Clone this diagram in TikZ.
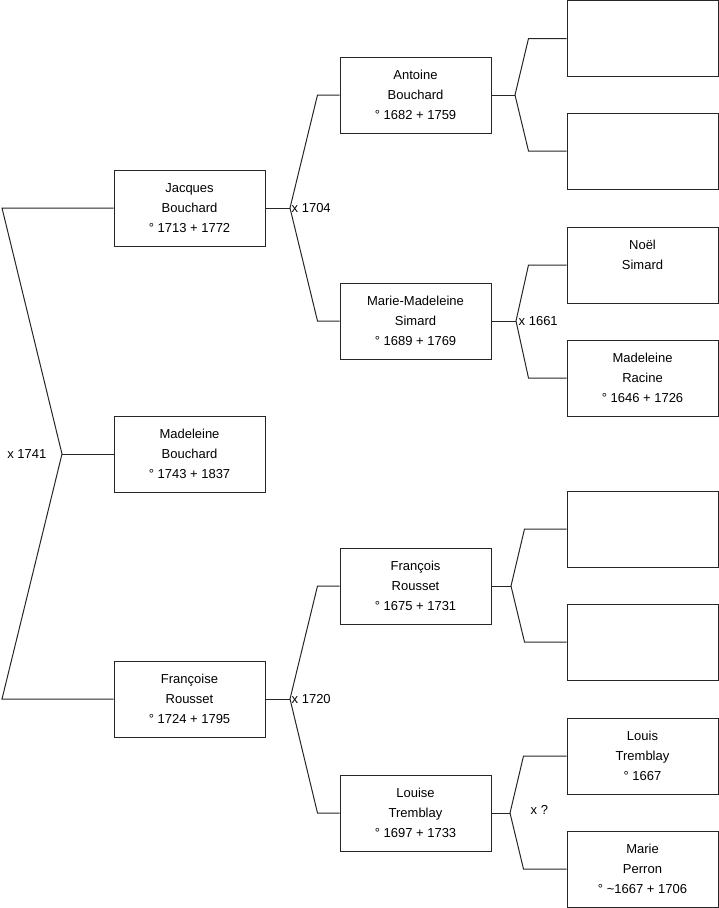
\documentclass[tikz,border=0pt]{standalone}
\usepackage{fontspec}
\setmainfont{Liberation Sans}
\usepackage{tikz}
\usetikzlibrary{calc}
\definecolor{lineGrey}{HTML}{262626}

\begin{document}
\begin{tikzpicture}[
  x=1pt,
  y=-1pt,
  font=\fontsize{13}{20}\selectfont,
  person/.style={
    rectangle,
    draw=lineGrey,
    fill=white,
    line width=1pt,
    align=center,
    minimum width=151pt,
    minimum height=76pt,
    inner sep=0pt
  },
  couple/.style={inner sep=1.5pt},
  link/.style={draw=lineGrey,line width=1pt}
]
\useasboundingbox (0,0) rectangle (719,908);

% Generation 1 and 2.
\node[person] (madeleine) at (189.5,454) {Madeleine\\Bouchard\\° 1743 + 1837};
\node[person] (jacques) at (189.5,208) {Jacques\\Bouchard\\° 1713 + 1772};
\node[person] (francoise) at (189.5,699) {Françoise\\Rousset\\° 1724 + 1795};

% Generation 3.
\node[person] (antoine) at (415.5,95) {Antoine\\Bouchard\\° 1682 + 1759};
\node[person] (mariemad) at (415.5,321) {Marie-Madeleine\\Simard\\° 1689 + 1769};
\node[person] (francois) at (415.5,586) {François\\Rousset\\° 1675 + 1731};
\node[person] (louise) at (415.5,813) {Louise\\Tremblay\\° 1697 + 1733};

% Generation 4.
\node[person] (antoineP) at (642.5,38.5) {};
\node[person] (antoineM) at (642.5,151) {};
\node[person] (noel) at (642.5,265) {Noël\\Simard\\\mbox{}};
\node[person] (racine) at (642.5,378) {Madeleine\\Racine\\° 1646 + 1726};
\node[person] (francoisP) at (642.5,529) {};
\node[person] (francoisM) at (642.5,642) {};
\node[person] (louis) at (642.5,756) {Louis\\Tremblay\\° 1667};
\node[person] (perron) at (642.5,869) {Marie\\Perron\\° \textasciitilde1667 + 1706};

% Fork points.
\coordinate (root) at (2,0);
\coordinate (x1741) at (62,454);
\coordinate (x1704) at (290,208);
\coordinate (x1720) at (290,699);
\coordinate (xant) at (515,95);
\coordinate (x1661) at (516,321);
\coordinate (xfra) at (511,586);
\coordinate (xlou) at (510,813);

% Parents of Madeleine.
\draw[link] (jacques.west) -- (jacques.west -| root) -- (x1741)
  -- (francoise.west -| root) -- (francoise.west);
\draw[link] (x1741) -- (madeleine.west);
\node[couple,anchor=east] (m1741) at ([xshift=-14]x1741) {x 1741};

% Parents of Jacques and Francoise.
\draw[link] (jacques.east) -- (x1704);
\draw[link] (antoine.west) -- ([xshift=-22]antoine.west) -- (x1704)
  -- ([xshift=-22]mariemad.west) -- (mariemad.west);
\node[couple,anchor=west] (m1704) at (x1704) {x 1704};
\draw[link] (francoise.east) -- (x1720);
\draw[link] (francois.west) -- ([xshift=-22]francois.west) -- (x1720)
  -- ([xshift=-22]louise.west) -- (louise.west);
\node[couple,anchor=west] (m1720) at (x1720) {x 1720};

% Parents of generation 3.
\draw[link] (antoine.east) -- (xant);
\draw[link] (antoineP.west) -- ([xshift=-38]antoineP.west) -- (xant)
  -- ([xshift=-38]antoineM.west) -- (antoineM.west);
\draw[link] (mariemad.east) -- (x1661);
\draw[link] (noel.west) -- ([xshift=-38]noel.west) -- (x1661)
  -- ([xshift=-38]racine.west) -- (racine.west);
\node[couple,anchor=west] (m1661) at ([xshift=1]x1661) {x 1661};
\draw[link] (francois.east) -- (xfra);
\draw[link] (francoisP.west) -- ([xshift=-42]francoisP.west) -- (xfra)
  -- ([xshift=-42]francoisM.west) -- (francoisM.west);
\draw[link] (louise.east) -- (xlou);
\draw[link] (louis.west) -- ([xshift=-43]louis.west) -- (xlou)
  -- ([xshift=-43]perron.west) -- (perron.west);
\node[couple,anchor=west] (mlou) at (529,810) {x ?};

\end{tikzpicture}
\end{document}
